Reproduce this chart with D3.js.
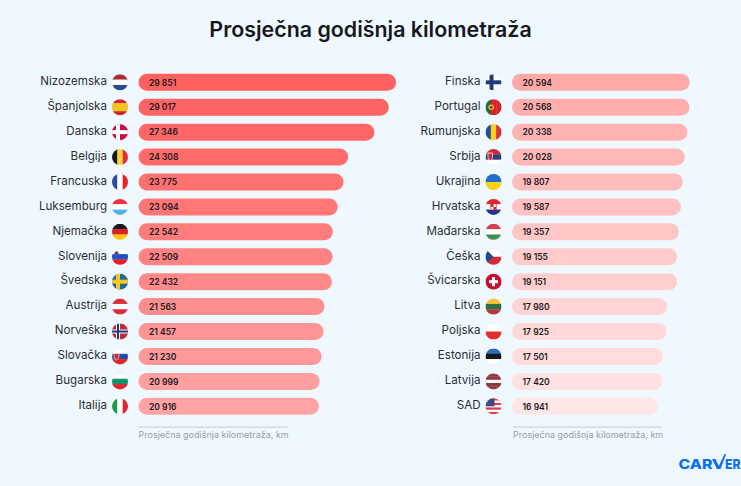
<!DOCTYPE html>
<html>
<head>
<meta charset="utf-8">
<script src="https://cdn.jsdelivr.net/npm/d3@7"></script>
<style>
  html, body { margin: 0; padding: 0; background: #f0f8ff; }
  svg { display: block; font-family: Inter, "Noto Sans", sans-serif; }
</style>
</head>
<body>
<div id="chart"></div>
<script>
const title = "Prosječna godišnja kilometraža";
const axisLabel = "Prosječna godišnja kilometraža, km";

const leftCountries = ["Nizozemska", "Španjolska", "Danska", "Belgija", "Francuska", "Luksemburg", "Njemačka", "Slovenija", "Švedska", "Austrija", "Norveška", "Slovačka", "Bugarska", "Italija"];
const leftValues = [29851, 29017, 27346, 24308, 23775, 23094, 22542, 22509, 22432, 21563, 21457, 21230, 20999, 20916];
const rightCountries = ["Finska", "Portugal", "Rumunjska", "Srbija", "Ukrajina", "Hrvatska", "Mađarska", "Češka", "Švicarska", "Litva", "Poljska", "Estonija", "Latvija", "SAD"];
const rightValues = [20594, 20568, 20338, 20028, 19807, 19587, 19357, 19155, 19151, 17980, 17925, 17501, 17420, 16941];

const width = 741, height = 486;
const svg = d3.select("#chart").append("svg").attr("width", width).attr("height", height);

svg.append("text")
  .attr("x", 370.5).attr("y", 37)
  .attr("text-anchor", "middle")
  .attr("style", "font-size: 21.4px; font-weight: 600; fill: #16181d;")
  .text(title);

const barScale = d3.scaleLinear().domain([0, 29851]).range([0, 257.5]);
const rowScale = d3.scaleLinear().domain([0, 13]).range([82.3, 406.3]);
const colorScale = d3.scaleLinear()
  .domain([0, 3, 9, 14, 20, 27])
  .range(["#ff6161", "#ff6a6a", "#ff8f8f", "#ffa9a9", "#ffc6c6", "#ffe6e6"]);

// flags, each one is drawn inside a clipped circle
const hStripes = (g, colors) => colors.forEach((c, i) => {
  g.append("rect").attr("x", -8).attr("y", -8 + 16 * i / colors.length)
    .attr("width", 16).attr("height", 16 / colors.length + 0.2).attr("fill", c);
});
const vStripes = (g, colors) => colors.forEach((c, i) => {
  g.append("rect").attr("y", -8).attr("x", -8 + 16 * i / colors.length)
    .attr("height", 16).attr("width", 16 / colors.length + 0.2).attr("fill", c);
});
const nordic = (g, bg, cross, inner) => {
  g.append("rect").attr("x", -8).attr("y", -8).attr("width", 16).attr("height", 16).attr("fill", bg);
  g.append("rect").attr("x", -8).attr("y", -2).attr("width", 16).attr("height", 4).attr("fill", cross);
  g.append("rect").attr("x", -4).attr("y", -8).attr("width", 4).attr("height", 16).attr("fill", cross);
  if(inner) {
    g.append("rect").attr("x", -8).attr("y", -1).attr("width", 16).attr("height", 2).attr("fill", inner);
    g.append("rect").attr("x", -3).attr("y", -8).attr("width", 2).attr("height", 16).attr("fill", inner);
  }
};
const flags = {
  "Nizozemska": g => hStripes(g, ["#a92a38", "#ffffff", "#2a4a8f"]),
  "Španjolska": g => hStripes(g, ["#d1242c", "#f6c21c", "#f6c21c", "#d1242c"]),
  "Danska": g => nordic(g, "#c8103c", "#ffffff"),
  "Belgija": g => vStripes(g, ["#17171a", "#f9d53a", "#e02f35"]),
  "Francuska": g => vStripes(g, ["#2d4a9c", "#ffffff", "#e2252b"]),
  "Luksemburg": g => hStripes(g, ["#ee3340", "#ffffff", "#4fb3e8"]),
  "Njemačka": g => hStripes(g, ["#17171a", "#dd1f26", "#fcc80e"]),
  "Slovenija": g => {
    hStripes(g, ["#ffffff", "#1b52c4", "#ee1c25"]);
    g.append("circle").attr("cx", -3.5).attr("cy", -3.5).attr("r", 1.8).attr("fill", "#1b52c4").attr("stroke", "#e03030").attr("stroke-width", 0.5);
  },
  "Švedska": g => nordic(g, "#1c68a8", "#fac81e"),
  "Austrija": g => hStripes(g, ["#dc2f3c", "#ffffff", "#dc2f3c"]),
  "Norveška": g => nordic(g, "#c4283c", "#ffffff", "#1f3a78"),
  "Slovačka": g => {
    hStripes(g, ["#ffffff", "#1c4fa8", "#e0252d"]);
    g.append("path").attr("d", "M-6,-3 h5 v3 q0,2.5 -2.5,3.5 q-2.5,-1 -2.5,-3.5z").attr("fill", "#e0252d").attr("stroke", "#fff").attr("stroke-width", 0.6);
  },
  "Bugarska": g => hStripes(g, ["#ffffff", "#12936a", "#d8262e"]),
  "Italija": g => vStripes(g, ["#1f9a4c", "#ffffff", "#e0272f"]),
  "Finska": g => nordic(g, "#ffffff", "#22397f"),
  "Portugal": g => {
    vStripes(g, ["#14713c", "#d9232c", "#d9232c"]);
    g.append("circle").attr("cx", -2.3).attr("r", 2.8).attr("fill", "#e8c22a");
    g.append("circle").attr("cx", -2.3).attr("r", 1.5).attr("fill", "#c8242c");
  },
  "Rumunjska": g => vStripes(g, ["#2a4b9b", "#fbd116", "#d8323a"]),
  "Srbija": g => {
    hStripes(g, ["#d02b3a", "#2c3f80", "#ffffff"]);
    g.append("path").attr("d", "M-5.5,-4 h4.5 v4.5 q0,2 -2.25,3 q-2.25,-1 -2.25,-3z").attr("fill", "#c8283a").attr("stroke", "#fff").attr("stroke-width", 0.7);
  },
  "Ukrajina": g => hStripes(g, ["#1f70c8", "#fbd116"]),
  "Hrvatska": g => {
    hStripes(g, ["#e0252d", "#ffffff", "#22338c"]);
    g.append("rect").attr("x", -2.7).attr("y", -3).attr("width", 5.4).attr("height", 6).attr("fill", "#fff").attr("stroke", "#d02030").attr("stroke-width", 0.6);
    g.append("rect").attr("x", -2.7).attr("y", -3).attr("width", 2.7).attr("height", 3).attr("fill", "#d02030");
    g.append("rect").attr("x", 0).attr("y", 0).attr("width", 2.7).attr("height", 3).attr("fill", "#d02030");
  },
  "Mađarska": g => hStripes(g, ["#d8404a", "#ffffff", "#3f8f4f"]),
  "Češka": g => {
    hStripes(g, ["#ffffff", "#db2a35"]);
    g.append("path").attr("d", "M-8,-8 L0,0 L-8,8z").attr("fill", "#1f4e8c");
  },
  "Švicarska": g => {
    g.append("rect").attr("x", -8).attr("y", -8).attr("width", 16).attr("height", 16).attr("fill", "#c80f2e");
    g.append("rect").attr("x", -4.5).attr("y", -1.5).attr("width", 9).attr("height", 3).attr("fill", "#fff");
    g.append("rect").attr("x", -1.5).attr("y", -4.5).attr("width", 3).attr("height", 9).attr("fill", "#fff");
  },
  "Litva": g => hStripes(g, ["#f7c23a", "#2f6e46", "#b23a3c"]),
  "Poljska": g => hStripes(g, ["#ffffff", "#e52d2d"]),
  "Estonija": g => hStripes(g, ["#2a6cc0", "#17171a", "#ffffff"]),
  "Latvija": g => hStripes(g, ["#8e3a42", "#8e3a42", "#ffffff", "#8e3a42", "#8e3a42"]),
  "SAD": g => {
    hStripes(g, ["#d8404c", "#ffffff", "#d8404c", "#ffffff", "#d8404c", "#ffffff", "#d8404c"]);
    g.append("rect").attr("x", -8).attr("y", -8).attr("width", 9).attr("height", 8).attr("fill", "#3f4a80");
  }
};

svg.append("defs").append("clipPath").attr("id", "flag-clip")
  .append("circle").attr("r", 8);

const drawPanel = (countries, values, barX, flagX, labelX, rankOffset, axisX, axisW) => {
  const rows = svg.append("g").selectAll("g")
    .data(countries.map((c, i) => ({ country: c, value: values[i], i })))
    .enter().append("g")
    .attr("transform", d => "translate(0," + rowScale(d.i) + ")");

  rows.append("text")
    .attr("x", labelX).attr("y", 2.8)
    .attr("text-anchor", "end")
    .attr("style", "font-size: 11.6px; fill: #2a2d34;")
    .text(d => d.country);

  rows.append("rect")
    .attr("x", barX).attr("y", -8.5)
    .attr("width", d => barScale(d.value)).attr("height", 17)
    .attr("rx", 8.5)
    .attr("fill", d => colorScale(d.i + rankOffset));

  rows.append("text")
    .attr("x", barX + 10.5).attr("y", 3.2)
    .attr("style", "font-size: 8.5px; font-weight: 600; fill: #17181c;")
    .text(d => d3.format(",")(d.value).replace(",", " "));

  const flag = rows.append("g")
    .attr("transform", "translate(" + flagX + ",0)");
  flag.append("circle").attr("r", 8.4).attr("fill", "#e6e9ee");
  flag.append("g")
    .attr("clip-path", "url(#flag-clip)")
    .each(function(d) { flags[d.country](d3.select(this)); });

  svg.append("rect")
    .attr("x", axisX).attr("y", 426.5)
    .attr("width", axisW).attr("height", 1.2)
    .attr("fill", "#cdd3dc");

  svg.append("text")
    .attr("x", axisX).attr("y", 438)
    .attr("style", "font-size: 9px; fill: #9a9ea6;")
    .text(axisLabel);
};

drawPanel(leftCountries, leftValues, 138.5, 120, 107, 0, 138.5, 149);
drawPanel(rightCountries, rightValues, 512, 493.5, 480.5, 14, 513, 149);

// logo, the V is taller than the other letters
const logoStyle = "font-size: 13.6px; font-weight: 800; fill: #0a6ff0;";
svg.append("text").attr("x", 678.5).attr("y", 469).attr("style", logoStyle)
  .attr("textLength", 34).attr("lengthAdjust", "spacingAndGlyphs").text("CAR");
svg.append("text").attr("x", 725).attr("y", 469).attr("style", logoStyle)
  .attr("textLength", 15.5).attr("lengthAdjust", "spacingAndGlyphs").text("ER");
svg.append("path")
  .attr("d", "M712,459 L715.5,459 L718.8,466 L724.5,454 L726.2,454 L720.5,469 L717,469 Z")
  .attr("fill", "#0a6ff0");
</script>
</body>
</html>
